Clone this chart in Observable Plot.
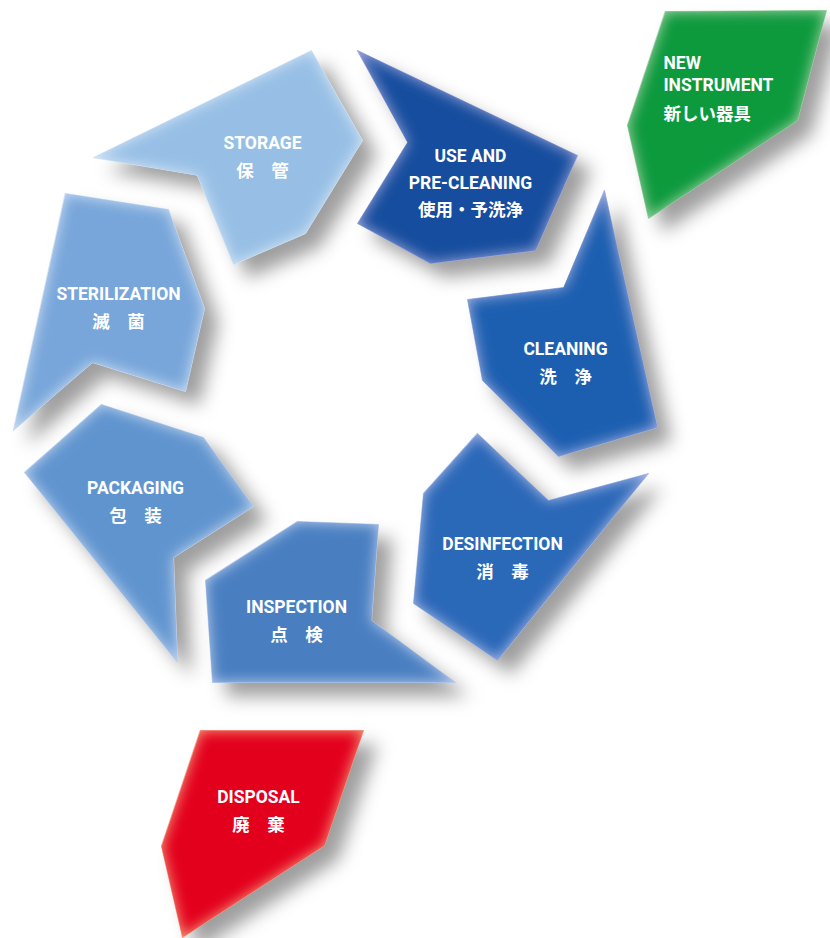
<!DOCTYPE html>
<html><head><meta charset="utf-8">
<script src="https://cdn.jsdelivr.net/npm/d3@7"></script>
<script src="https://cdn.jsdelivr.net/npm/@observablehq/plot@0.6"></script>
<style>html,body{margin:0;padding:0;background:#fff;}</style>
</head><body><div id="chart"></div>
<script>
// Stage polygons (diagram coordinates, x right, y down)
const storagePts       = [[93,157],[311,50],[362,140],[305,233],[233,264],[197,175]];
const usePts           = [[357,50],[577,155],[535,250],[430,263],[357,223],[407,142]];
const cleaningPts      = [[604,190],[657,427],[558,456],[482,380],[467,299],[563,287]];
const desinfectionPts  = [[477,433],[548,500],[648,473],[497,660],[413,603],[423,493]];
const inspectionPts    = [[297,521],[378,524],[371,620],[455,682],[212,682],[205,580]];
const packagingPts     = [[101,404],[203,437],[253,506],[173,557],[177,662],[24,472]];
const sterilizationPts = [[65,193],[168,209],[204,308],[185,391],[92,362],[13,430]];
const newPts           = [[665,11],[826,10],[797,120],[648,218],[627,125]];
const disposalPts      = [[200,730],[363,730],[324,845],[182,937],[161,846]];

const stageIds = ["storage","use","cleaning","desinfection","inspection","packaging","sterilization","new","disposal"];
const stagePolys = [storagePts, usePts, cleaningPts, desinfectionPts, inspectionPts, packagingPts, sterilizationPts, newPts, disposalPts];

// Labels
const labelLines = ["STORAGE","保　管","USE AND","PRE-CLEANING","使用・予洗浄","CLEANING","洗　浄","DESINFECTION","消　毒","INSPECTION","点　検","PACKAGING","包　装","STERILIZATION","滅　菌","DISPOSAL","廃　棄"];
const labelX = [262,262,470,470,470,565,565,502,502,296,296,135,135,118,118,258,258];
const labelY = [143,171,156,183,210,349,377,544,572,607,635,488,516,294,322,797,825];
const newLines = ["NEW","INSTRUMENT","新しい器具"];
const newX = [663,663,663];
const newY = [63,85,114];

// Colours
const mainColor = {storage:"#97bfe5", use:"#134d9e", cleaning:"#1f5eb0", desinfection:"#2b68b8", inspection:"#4a7fc1", packaging:"#6094cf", sterilization:"#78a6da", new:"#0b9a3e", disposal:"#e3061a"};
const edgeColor = {storage:"#d8e8f7", use:"#a9acdf", cleaning:"#afb7e4", desinfection:"#b4c0ea", inspection:"#c0d0ef", packaging:"#c8d9f2", sterilization:"#d0e1f5", new:"#a9d8ae", disposal:"#f6a584"};

const verts = [];
stageIds.forEach((id, i) => stagePolys[i].forEach(([x, y]) => verts.push({id, x, y})));
const labels = labelLines.map((t, i) => ({t, x: labelX[i], y: labelY[i]}));
const newLabels = newLines.map((t, i) => ({t, x: newX[i], y: newY[i]}));

const font = "Roboto, 'Noto Sans CJK JP', sans-serif";
const svg = Plot.plot({
  width: 830, height: 938,
  margin: 0,
  x: {domain: [0, 830], range: [0, 830], axis: null},
  y: {domain: [0, 938], range: [0, 938], axis: null},
  color: {type: "identity"},
  style: {background: "#fff", fontFamily: font},
  marks: [
    Plot.line(verts, {x: "x", y: "y", z: "id", curve: "linear-closed", fill: "#000", stroke: "none", fillOpacity: 0.38, dx: 14, dy: 14}),
    Plot.line(verts, {x: "x", y: "y", z: "id", curve: "linear-closed", fill: d => edgeColor[d.id], stroke: d => edgeColor[d.id], strokeWidth: 1}),
    Plot.line(verts, {x: "x", y: "y", z: "id", curve: "linear-closed", fill: d => mainColor[d.id], stroke: "none"}),
    Plot.text(labels, {x: "x", y: "y", text: "t", fill: "#fff", fontSize: 17.5, fontWeight: "bold", textAnchor: "middle", lineAnchor: "middle"}),
    Plot.text(newLabels, {x: "x", y: "y", text: "t", fill: "#fff", fontSize: 17.5, fontWeight: "bold", textAnchor: "start", lineAnchor: "middle"})
  ]
});

const s = d3.select(svg);
const defs = s.insert("defs", ":first-child");
defs.append("filter").attr("id", "shadowBlur").attr("x", "-30%").attr("y", "-30%").attr("width", "160%").attr("height", "160%")
  .append("feGaussianBlur").attr("stdDeviation", 9);
const inner = defs.append("filter").attr("id", "innerGlow").attr("x", "-10%").attr("y", "-10%").attr("width", "120%").attr("height", "120%");
inner.append("feGaussianBlur").attr("in", "SourceGraphic").attr("stdDeviation", 7).attr("result", "b");
inner.append("feComposite").attr("in", "b").attr("in2", "SourceAlpha").attr("operator", "in");

const groups = s.selectAll("g[aria-label=line]").nodes();
d3.select(groups[0]).selectAll("path").attr("filter", "url(#shadowBlur)");
d3.select(groups[2]).selectAll("path").attr("filter", "url(#innerGlow)");

document.getElementById("chart").appendChild(svg);
</script>
</body></html>
